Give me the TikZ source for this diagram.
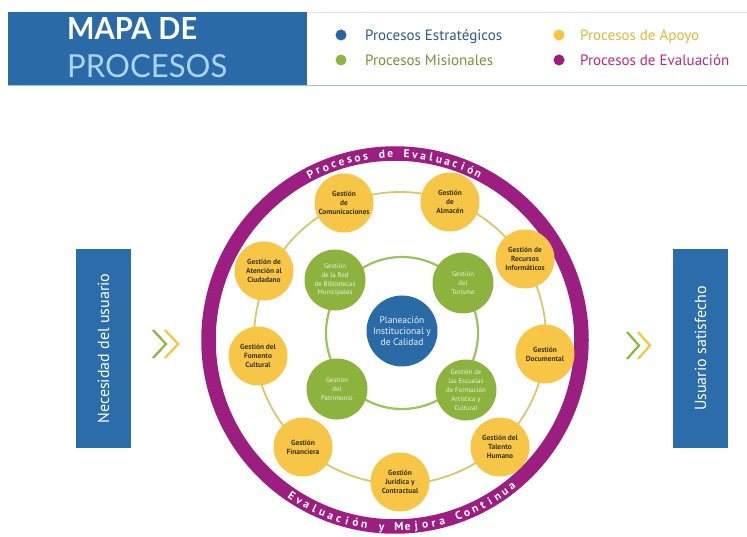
\documentclass[tikz,border=0pt]{standalone}
\usepackage{fontspec}
\setmainfont{PT Sans}
\newfontfamily\headfont{Lato}
\usetikzlibrary{calc}
\definecolor{hblue}{HTML}{2A6AA6}
\definecolor{plblue}{HTML}{A9D5F5}
\definecolor{linegray}{HTML}{DDE3EA}
\definecolor{lineblue}{HTML}{9FC0DF}
\definecolor{dblue}{HTML}{2B65A0}
\definecolor{tblue}{HTML}{2A5A8A}
\definecolor{dgreen}{HTML}{8DB63C}
\definecolor{tgreen}{HTML}{749433}
\definecolor{dyellow}{HTML}{F9C440}
\definecolor{tyellow}{HTML}{E6B536}
\definecolor{dpurple}{HTML}{9E1A7E}
\definecolor{tpurple}{HTML}{BC2686}
\definecolor{ringpurple}{HTML}{9B1E80}
\definecolor{yfill}{HTML}{F8C646}
\definecolor{yline}{HTML}{D9C76E}
\definecolor{ytext}{HTML}{3B3321}
\definecolor{gfill}{HTML}{8CB33E}
\definecolor{gline}{HTML}{9CC25C}
\definecolor{gtext}{HTML}{EEF3E0}
\definecolor{cfill}{HTML}{2A6AA6}
\definecolor{sblue}{HTML}{2B6DAB}
\begin{document}
\begin{tikzpicture}[x=1pt,y=1pt,
  ynode/.style={circle,fill=yfill,minimum size=59pt,inner sep=0pt,align=center,text=ytext,font=\fontsize{7.4}{8.8}\selectfont\bfseries},
  gnode/.style={circle,fill=gfill,minimum size=61pt,inner sep=0pt,align=center,text=gtext,font=\fontsize{6.8}{8.8}\selectfont},
  legdot/.style={circle,minimum size=11pt,inner sep=0pt},
  legtext/.style={anchor=base west,inner sep=0pt,font=\fontsize{15}{15}\selectfont},
  sidebox/.style={rectangle,fill=sblue,minimum width=199pt,minimum height=55pt,inner sep=0pt,rotate=90,text=white,font=\fontsize{16}{16}\selectfont},
  chev/.style={line width=2.2pt},
  ringtext/.style={text=white,inner sep=0pt,font=\fontsize{11.5}{11.5}\selectfont\bfseries}]
\useasboundingbox (0,0) rectangle (747,-537);
% header
\fill[hblue] (8,-12) rectangle (307,-85);
\draw[linegray,line width=0.6pt] (307,-12) -- (747,-12);
\draw[lineblue,line width=1.8pt] (8,-85.5) -- (747,-85.5);
\node[anchor=base west,inner sep=0pt,text=white] (h1) at (67,-40) {\resizebox{130pt}{22pt}{\headfont\bfseries MAPA DE}};
\node[anchor=base west,inner sep=0pt,text=plblue] (h2) at (67,-78) {\resizebox{160pt}{23pt}{\headfont PROCESOS}};
% legend
\node[legdot,fill=dblue] (d1) at (341,-35) {};
\node[legtext,text=tblue] (l1) at (365,-40.5) {Procesos Estratégicos};
\node[legdot,fill=dgreen] (d2) at (341,-60) {};
\node[legtext,text=tgreen] (l2) at (365,-65.5) {Procesos Misionales};
\node[legdot,fill=dyellow] (d3) at (559,-35) {};
\node[legtext,text=tyellow] (l3) at (580,-40.5) {Procesos de Apoyo};
\node[legdot,fill=dpurple] (d4) at (559,-60) {};
\node[legtext,text=tpurple] (l4) at (580,-65.5) {Procesos de Evaluación};
% side boxes
\node[sidebox] (need) at (103.5,-348.5) {Necesidad del usuario};
\node[sidebox] (sat) at (700.5,-348.5) {Usuario satisfecho};
% chevrons
\draw[chev,dgreen] (153,-330) -- (166,-344) -- (153,-358);
\draw[chev,dyellow] (165,-330) -- (178,-344) -- (165,-358);
\draw[chev,dgreen] (627,-332) -- (639,-345.5) -- (627,-359);
\draw[chev,dyellow] (638,-332) -- (650,-345.5) -- (638,-359);
% purple ring
\coordinate (rc) at (395,-340);
\draw[ringpurple,line width=14.5pt] (rc) circle (186.5);
\foreach \ch [count=\i] in {P,r,o,c,e,s,o,s,{},d,e,{},E,v,a,l,u,a,c,i,ó,n} {
  \pgfmathsetmacro\ang{117-(\i-1)*2.55}
  \node[ringtext,rotate=\ang-90,anchor=base] (pt\i) at ($(rc)+(\ang:182.3)$) {\ch};
}
\foreach \ch [count=\i] in {E,v,a,l,u,a,c,i,ó,n,{},y,{},M,e,j,o,r,a,{},C,o,n,t,i,n,u,a} {
  \pgfmathsetmacro\ang{236.5+(\i-1)*2.67}
  \node[ringtext,rotate=\ang+90,anchor=base] (pb\i) at ($(rc)+(\ang:190.8)$) {\ch};
}
% support ring
\draw[yline,line width=1.8pt] (400,-338) circle (146);
\node[ynode] (com) at (344,-203) {Gestión\\de\\Comunicaciones};
\node[ynode] (alm) at (450,-202) {Gestión\\de\\Almacén};
\node[ynode] (rec) at (525,-259) {Gestión de\\Recursos\\Informáticos};
\node[ynode] (doc) at (545,-354) {Gestión\\Documental};
\node[ynode] (tal) at (500,-447) {Gestión del\\Talento\\Humano};
\node[ynode] (jur) at (400,-482) {Gestión\\Jurídica y\\Contractual};
\node[ynode] (fin) at (303,-447) {Gestión\\Financiera};
\node[ynode] (fom) at (258,-356) {Gestión del\\Fomento\\Cultural};
\node[ynode] (ate) at (264,-271) {Gestión de\\Atención al\\Ciudadano};
% missional ring
\draw[gline,line width=2.2pt] (402,-333) circle (76);
\node[gnode] (bib) at (335,-280) {Gestión\\de la Red\\de Bibliotecas\\Municipales};
\node[gnode] (tur) at (463,-283) {Gestión\\del\\Turismo};
\node[gnode] (pat) at (337,-389) {Gestión\\del\\Patrimonio};
\node[gnode] (esc) at (466,-390) {Gestión de\\las Escuelas\\de Formación\\Artística y\\Cultural};
% center
\node[circle,fill=cfill,minimum size=71pt,inner sep=0pt,align=center,text=white!92!cfill,font=\fontsize{9.5}{11}\selectfont] (pla) at (402,-331) {Planeación\\Institucional y\\de Calidad};
\end{tikzpicture}
\end{document}
